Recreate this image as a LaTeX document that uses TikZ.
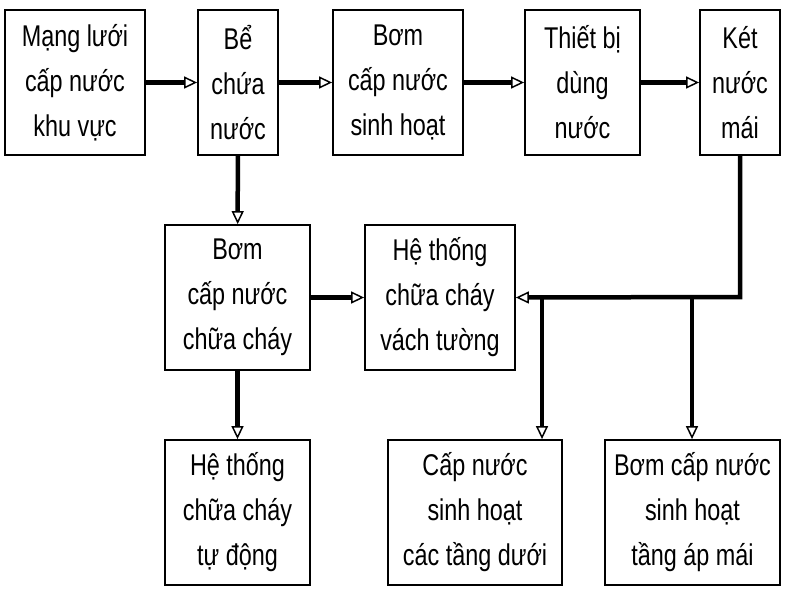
\documentclass[tikz,border=0pt]{standalone}
\usepackage{fontspec}
\setmainfont[FakeStretch=0.78]{Liberation Sans}
\usetikzlibrary{arrows.meta}
\begin{document}
\begin{tikzpicture}[x=1pt,y=-1pt,
 box/.style={draw,line width=1.8pt,align=center,inner sep=0pt,font=\fontsize{30}{45}\selectfont},
 flow/.style={line width=4.5pt,-{Triangle[open,length=13pt,width=12pt,line width=1.5pt]}},
 pipe/.style={line width=4.5pt}]
\useasboundingbox (0,0) rectangle (800,600);
\newcommand\bx[6]{\node[box,minimum width=#4-#2,minimum height=#5-#3] (#1) at ({(#2+#4)/2},{(#3+#5)/2}) {#6};}
\bx{b1}{5}{10}{145}{155}{Mạng lưới\\cấp nước\\khu vực}
\bx{b2}{198}{10}{278}{155}{Bể\\chứa\\nước}
\bx{b3}{333}{10}{463}{155}{Bơm\\cấp nước\\sinh hoạt}
\bx{b4}{525}{10}{640}{155}{Thiết bị\\dùng\\nước}
\bx{b5}{700}{10}{780}{155}{Két\\nước\\mái}
\bx{b6}{165}{225}{310}{370}{Bơm\\cấp nước\\chữa cháy}
\bx{b7}{365}{225}{515}{370}{Hệ thống\\chữa cháy\\vách tường}
\bx{b8}{165}{440}{310}{585}{Hệ thống\\chữa cháy\\tự động}
\bx{b9}{388}{440}{562}{585}{Cấp nước\\sinh hoạt\\các tầng dưới}
\bx{b10}{605}{440}{780}{585}{Bơm cấp nước\\sinh hoạt\\tầng áp mái}
\draw[flow] (b1) -- (b2);
\draw[flow] (b2) -- (b3);
\draw[flow] (b3) -- (b4);
\draw[flow] (b4) -- (b5);
\draw[flow] (b2) -- (b6);
\draw[flow] (b6) -- (b7);
\draw[flow] (b6) -- (b8);
\coordinate (c1) at (740,297);
\coordinate (j1) at (542,297);
\coordinate (j2) at (692,297);
\draw[flow] (b5.south -| c1) -- (c1) -- (b7.east);
\draw[flow] (j1) -- (j1 |- b9.north);
\draw[flow] (j2) -- (j2 |- b10.north);
\end{tikzpicture}
\end{document}
